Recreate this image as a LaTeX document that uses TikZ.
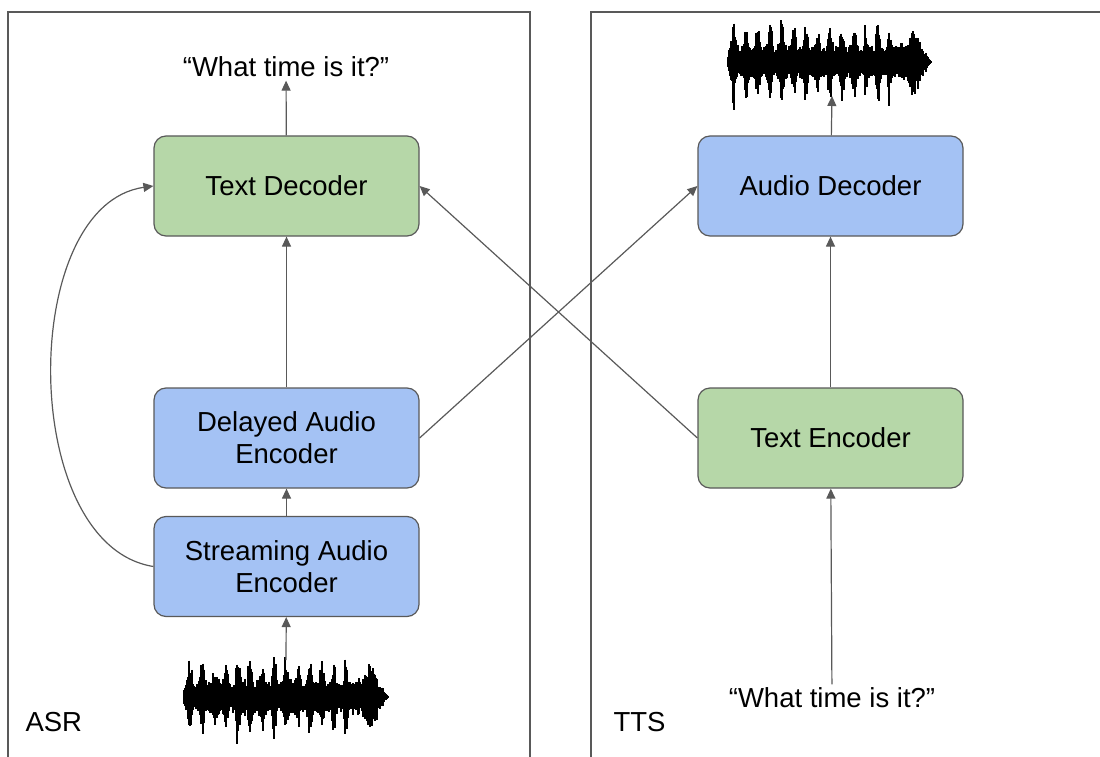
\documentclass[tikz,border=0pt]{standalone}
\usepackage{fontspec}
\setmainfont{Liberation Sans}
\usetikzlibrary{arrows.meta}
\definecolor{linegray}{HTML}{595959}
\definecolor{boxgreen}{HTML}{B6D7A8}
\definecolor{boxblue}{HTML}{A4C2F4}
% a rough audio waveform, left end at (#1,#2), #3 samples long
\newcommand{\soundwave}[3]{%
	\pgfmathsetseed{#3}
	\foreach \i in {0,...,#3}{
			\pgfmathsetmacro\amp{(10+5*rnd+(1-0.8*(\i>163))*22*abs(sin(\i*15))^6*(0.4+rnd)+(\i>177)*12*sin(min(180,(\i-177)*10)))*min(1,(#3-\i)/12)*min(1,(\i+3)/5)}
			\pgfmathsetmacro\up{\amp*(0.75+0.5*rnd)}
			\pgfmathsetmacro\dn{\amp*(0.75+0.5*rnd)}
			\draw[line width=1.3pt] (#1+\i,#2-\up) -- (#1+\i,#2+\dn);
		}
}
\begin{document}
\begin{tikzpicture}[x=1pt,y=-1pt,
		font=\fontsize{27.5}{32}\selectfont,
		block/.style={draw=linegray,line width=1.2pt,rounded corners=12pt,minimum width=265pt,minimum height=100pt,align=center},
		arr/.style={draw=linegray,line width=1.2pt,-{Triangle[length=10pt,width=9pt]}}]
	\useasboundingbox (0,0) rectangle (1100,757);
	% the two panels
	\draw[linegray,line width=1.5pt] (8,757) -- (8,12) -- (530,12) -- (530,757);
	\draw[linegray,line width=1.5pt] (591,757) -- (591,12) -- (1100,12);
	\node[anchor=west] (asr) at (22,722) {ASR};
	\node[anchor=west] (tts) at (610,722) {TTS};

	% ASR side
	\node[block,fill=boxgreen] (tdec) at (286.5,186) {Text Decoder};
	\node[block,fill=boxblue] (dae) at (286.5,438) {Delayed Audio\\Encoder};
	\node[block,fill=boxblue] (sae) at (286.5,566.5) {Streaming Audio\\Encoder};
	\node (asrout) at (286,67) {“What time is it?”};
	\soundwave{184}{697}{205}
	\coordinate (asrin) at (286,660);

	% TTS side
	\node[block,fill=boxblue] (adec) at (830.5,186) {Audio Decoder};
	\node[block,fill=boxgreen] (tenc) at (830.5,438) {Text Encoder};
	\node (ttsin) at (832,698) {“What time is it?”};
	\soundwave{728}{62}{204}
	\coordinate (ttsout) at (832,96);

	\draw[arr] (asrin) -- (sae);
	\draw[arr] (sae) -- (dae);
	\draw[arr] (dae) -- (tdec);
	\draw[arr] (tdec) -- (asrout);
	\draw[arr] (sae.west) .. controls (18,545) and (18,205) .. (tdec.west);
	\draw[arr] (ttsin) -- (tenc);
	\draw[arr] (tenc) -- (adec);
	\draw[arr] (adec) -- (ttsout);
	\draw[arr] (dae.east) -- (adec.west);
	\draw[arr] (tenc.west) -- (tdec.east);
\end{tikzpicture}
\end{document}
